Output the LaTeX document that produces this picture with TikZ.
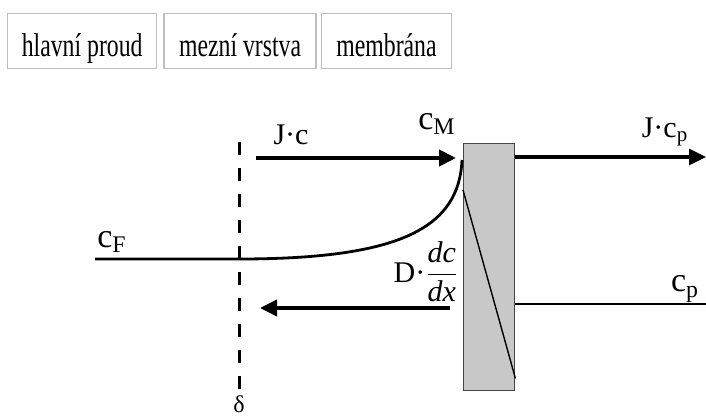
\documentclass[tikz,border=0pt]{standalone}
\usepackage{amsmath}
\usepackage{fontspec}
\setmainfont{Liberation Serif}
\newfontfamily\narrowserif[FakeStretch=0.72]{Liberation Serif}
\usetikzlibrary{arrows.meta,positioning}
\definecolor{framegray}{RGB}{190,190,190}
\definecolor{memgray}{RGB}{200,200,200}
\definecolor{memedge}{RGB}{70,70,70}

\begin{document}
\begin{tikzpicture}[x=0.5pt, y=-0.5pt,
  every node/.style={font=\fontsize{12}{14}\selectfont, inner sep=0pt},
  header/.style={draw=framegray, line width=0.7pt, minimum height=27.5pt, text height=18pt, text depth=3pt, align=center, font=\narrowserif\fontsize{16.5}{18}\selectfont},
  lbl/.style={font=\fontsize{15}{17}\selectfont},
  flux/.style={-{Triangle[length=8.5pt,width=8pt]}, line width=2pt},
  profile/.style={line width=1.4pt}
]
  \useasboundingbox (0,0) rectangle (706,417);

  % header boxes
  \node[header, minimum width=74.5pt, anchor=north west] (hlavni) at (7,13) {hlavní proud};
  \node[header, minimum width=76pt, right=3pt of hlavni] (mezni) {mezní vrstva};
  \node[header, minimum width=65pt, right=2pt of mezni] (membrana) {membrána};

  % membrane
  \node[draw=memedge, fill=memgray, line width=0.7pt, minimum width=25.5pt, minimum height=123.5pt, anchor=north west] (mem) at (463,143) {};
  \draw[line width=0.7pt] ([yshift=-23.5pt]mem.north west) -- ([yshift=6.5pt]mem.south east);

  % boundary layer edge
  \coordinate (dtop) at (239,142);
  \coordinate (dbot) at (239,392);
  \draw[line width=1.5pt, dash pattern=on 6.5pt off 6.5pt] (dtop) -- (dbot);
  \node[anchor=south] (delta) at (239,413) {δ};

  % concentration profile
  \coordinate (cfstart) at (95,259);
  \coordinate (cfedge) at (239,259);
  \coordinate (cmtop) at (462,160);
  \draw[profile] (cfstart) -- (cfedge) .. controls (400,259) and (459,228) .. (cmtop);
  \coordinate (cpend) at (706,304);
  \draw[line width=1.1pt] (mem.east|-cpend) -- (cpend);

  % fluxes
  \coordinate (jcstart) at (256,158);
  \coordinate (jcend) at (456,158);
  \draw[flux] (jcstart) -- (jcend);
  \coordinate (jpend) at (706,157);
  \draw[flux, line width=1.6pt] (mem.east|-jpend) -- (jpend);
  \coordinate (difstart) at (450,308);
  \coordinate (difend) at (260,308);
  \draw[flux, line width=1.8pt] (difstart) -- (difend);

  % labels
  \node[lbl] (jc) at (291,135) {J·c};
  \node[lbl] (cm) at (437,124) {\fontsize{17}{19}\selectfont c\textsubscript{M}};
  \node[lbl] (cf) at (112,242) {\fontsize{17}{19}\selectfont c\textsubscript{F}};
  \node[lbl] (jcp) at (665,132) {J·c\textsubscript{p}};
  \node[lbl] (cp) at (685,289) {\fontsize{17}{19}\selectfont c\textsubscript{p}};
  \node[lbl] (dif) at (426,272) {D·$\dfrac{\textit{dc}}{\textit{dx}}$};
\end{tikzpicture}
\end{document}
